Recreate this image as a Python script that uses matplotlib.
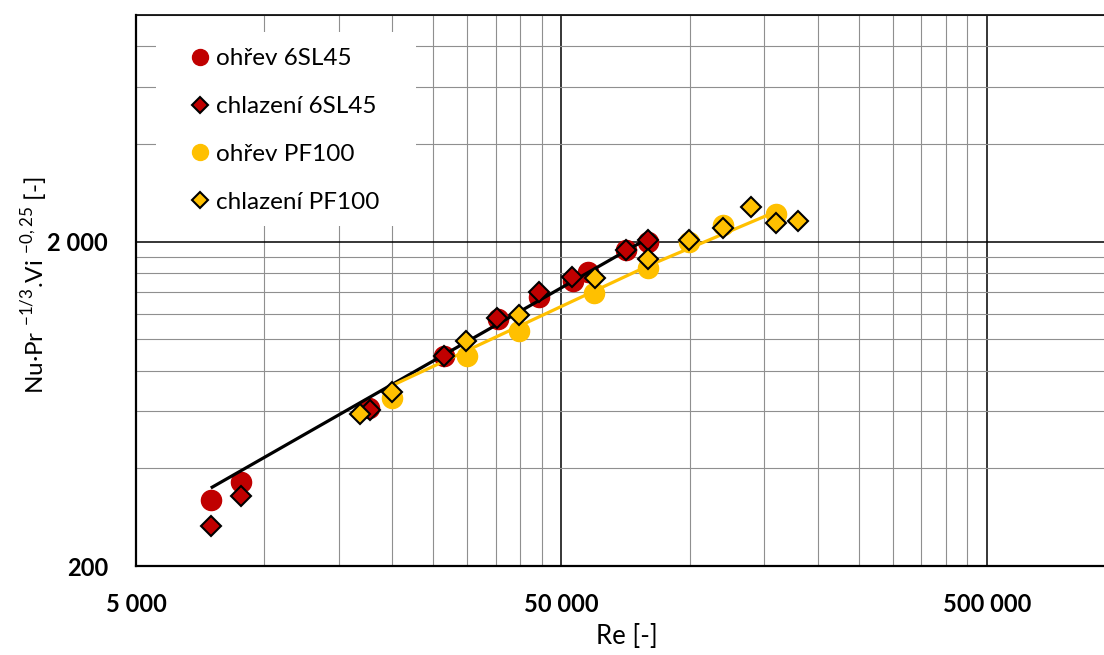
import matplotlib
matplotlib.use("Agg")
import matplotlib.pyplot as plt
from matplotlib.lines import Line2D
from matplotlib.patches import Rectangle
from matplotlib.ticker import FixedLocator, FuncFormatter, NullFormatter

plt.rcParams['font.family'] = ['Lato', 'DejaVu Sans']

# ---- data ----
re_ohrev_6sl45 = [7494, 8832, 17671, 26486, 35406, 44311, 53155, 57870, 70745, 79660]
val_ohrev_6sl45 = [320, 363, 616, 886, 1155, 1349, 1518, 1611, 1889, 2000]

re_chlaz_6sl45 = [7494, 8832, 17738, 26486, 35330, 44311, 53070, 70745, 79790]
val_chlaz_6sl45 = [265, 328, 605, 886, 1161, 1398, 1558, 1889, 2019]

re_ohrev_pf100 = [19938, 29932, 39823, 59687, 79878, 99700, 119600, 159990]
val_ohrev_pf100 = [657, 889, 1058, 1386, 1655, 1993, 2246, 2443]

re_chlaz_pf100 = [16830, 19938, 29835, 39823, 59880, 79878, 99480, 119800, 139700, 159990, 179800]
val_chlaz_pf100 = [587, 688, 990, 1189, 1544, 1774, 2029, 2205, 2562, 2285, 2311]

fit_6sl45_re = [7494, 82000]
fit_6sl45_val = [348, 2090]
fit_pf100_re = [19940, 80000, 160000]
fit_pf100_val = [719, 1686, 2480]

labels = ['ohřev 6SL45', 'chlazení 6SL45', 'ohřev PF100', 'chlazení PF100']
x_ticks = [5000, 50000, 500000]
y_ticks = [200, 2000]
x_lim = (5000, 942000)
y_lim = (200, 10000)

RED = '#C00000'
YEL = '#FFC000'

W, H = 1104, 655
fig = plt.figure(figsize=(W / 100, H / 100), dpi=100)
L, R, T, B = 136, 1104, 15, 566
ax = fig.add_axes([L / W, 1 - B / H, (R - L) / W, (B - T) / H])
ax.set_xscale('log')
ax.set_yscale('log')
ax.set_xlim(*x_lim)
ax.set_ylim(*y_lim)

# grid
xminor = [m * k * 10 ** d for m in [5000] for d in range(0, 3) for k in range(2, 10)]
yminor = [m * k * 10 ** d for m in [200] for d in range(0, 2) for k in range(2, 10)]
ax.xaxis.set_major_locator(FixedLocator(x_ticks))
ax.yaxis.set_major_locator(FixedLocator(y_ticks))
ax.xaxis.set_minor_locator(FixedLocator(xminor))
ax.yaxis.set_minor_locator(FixedLocator(yminor))
ax.xaxis.set_minor_formatter(NullFormatter())
ax.yaxis.set_minor_formatter(NullFormatter())
fmt = FuncFormatter(lambda v, p: f'{int(round(v)):,}'.replace(',', ' '))
ax.xaxis.set_major_formatter(fmt)
ax.yaxis.set_major_formatter(fmt)
ax.set_axisbelow(True)
ax.grid(which='minor', color='#8f8f8f', linewidth=0.8)
ax.grid(which='major', color='black', linewidth=1.1)
ax.tick_params(which='both', length=0)
ax.tick_params(axis='x', pad=19.5, labelsize=17)
ax.tick_params(axis='y', pad=20, labelsize=17)
for lab in ax.get_xticklabels() + ax.get_yticklabels():
    lab.set_fontweight('bold')

for s in ['left', 'bottom']:
    ax.spines[s].set_linewidth(1.6)
ax.spines['top'].set_linewidth(1.2)
ax.spines['right'].set_visible(False)

# data
ax.plot(re_ohrev_6sl45, val_ohrev_6sl45, 'o', ms=14.5, color=RED, mec=RED, zorder=3)
ax.plot(re_ohrev_pf100, val_ohrev_pf100, 'o', ms=14.5, color=YEL, mec=YEL, zorder=3)
ax.plot(fit_6sl45_re, fit_6sl45_val, '-', color='black', lw=2.3, zorder=4,
        solid_capstyle='butt')
ax.plot(fit_pf100_re, fit_pf100_val, '-', color=YEL, lw=2.3, zorder=4.1,
        solid_capstyle='butt')
ax.plot(re_chlaz_6sl45, val_chlaz_6sl45, 'D', ms=9.8, color=RED, mec='black', mew=1.5, zorder=5)
ax.plot(re_chlaz_pf100, val_chlaz_pf100, 'D', ms=9.8, color=YEL, mec='black', mew=1.5, zorder=5)

# legend background
ax.add_patch(Rectangle(((156 - L) / (R - L), (B - 226) / (B - T)),
                       (416 - 156) / (R - L), (226 - 32) / (B - T),
                       transform=ax.transAxes, facecolor='white', edgecolor='none', zorder=1))
handles = [
    Line2D([], [], marker='o', ls='none', ms=11.5, color=RED, mec=RED),
    Line2D([], [], marker='D', ls='none', ms=8, color=RED, mec='black', mew=1.5),
    Line2D([], [], marker='o', ls='none', ms=11.5, color=YEL, mec=YEL),
    Line2D([], [], marker='D', ls='none', ms=8, color=YEL, mec='black', mew=1.5),
]
fs_leg = 17.5
hl_px = fs_leg * 100 / 72
ax.legend(handles, labels, loc='upper left', frameon=False, fontsize=fs_leg,
          bbox_to_anchor=((200 - hl_px / 2 - L) / (R - L), (B - 48) / (B - T)),
          borderpad=0, borderaxespad=0, handlelength=1.0, handletextpad=0.15,
          labelspacing=1.11)

ax.set_xlabel('Re [-]', fontsize=18.5)
ax.xaxis.set_label_coords((627 - L) / (R - L), -(637 - B) / (B - T), transform=ax.transAxes)
ax.set_ylabel(r'Nu·Pr $^{\mathregular{-1/3}}$.Vi $^{\mathregular{- 0,25}}$ [-]', fontsize=17.5)
ax.yaxis.set_label_coords(-(L - 35) / (R - L), 0.51, transform=ax.transAxes)
ax.xaxis.label.set_va('center')
ax.yaxis.label.set_va('center')

fig.savefig('out.png', dpi=100)
